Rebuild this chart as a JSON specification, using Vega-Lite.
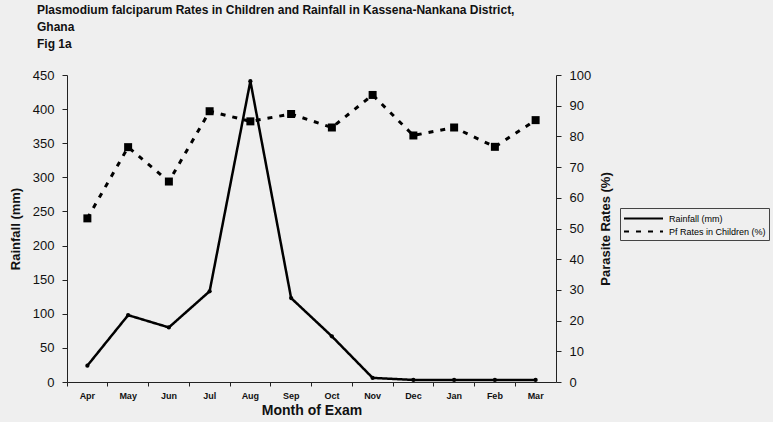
{
  "$schema": "https://vega.github.io/schema/vega-lite/v6.json",
  "width": 489,
  "height": 307,
  "autosize": {"type": "none"},
  "padding": {"left": 67, "top": 75, "right": 217, "bottom": 40},
  "background": "#efefef",
  "config": {
    "view": {"stroke": null},
    "font": "Liberation Sans",
    "axis": {"domainColor": "#222", "tickColor": "#222", "labelColor": "#111", "titleColor": "#111", "grid": false, "labelFont": "Liberation Sans", "titleFont": "Liberation Sans"}
  },
  "title": {
    "text": ["Plasmodium falciparum Rates in Children and Rainfall in Kassena-Nankana District,", "Ghana", "Fig 1a"],
    "anchor": "start",
    "frame": "group",
    "dx": -30,
    "offset": 18,
    "fontSize": 12,
    "font": "Liberation Sans",
    "fontWeight": "bold",
    "lineHeight": 17,
    "color": "#111"
  },
  "data": {
    "values": [
      {"month": "Apr", "rainfall": 24, "pf": 53.3},
      {"month": "May", "rainfall": 98, "pf": 76.5},
      {"month": "Jun", "rainfall": 80, "pf": 65.3},
      {"month": "Jul", "rainfall": 133, "pf": 88.2},
      {"month": "Aug", "rainfall": 441, "pf": 84.9},
      {"month": "Sep", "rainfall": 123, "pf": 87.3},
      {"month": "Oct", "rainfall": 67, "pf": 82.9},
      {"month": "Nov", "rainfall": 6, "pf": 93.5},
      {"month": "Dec", "rainfall": 3, "pf": 80.3},
      {"month": "Jan", "rainfall": 3, "pf": 82.9},
      {"month": "Feb", "rainfall": 3, "pf": 76.6},
      {"month": "Mar", "rainfall": 3, "pf": 85.3}
    ]
  },
  "encoding": {
    "x": {
      "field": "month",
      "type": "ordinal",
      "sort": null,
      "scale": {"type": "band", "paddingInner": 0, "paddingOuter": 0},
      "axis": {
        "title": "Month of Exam",
        "titleFontSize": 14,
        "titleFontWeight": "bold",
        "titlePadding": 3,
        "labelAngle": 0,
        "labelFontSize": 9,
        "labelFontWeight": "bold",
        "labelPadding": 5,
        "bandPosition": 0,
        "tickSize": 4,
        "labelBound": false
      }
    }
  },
  "layer": [
    {
      "mark": {"type": "line", "strokeWidth": 2.5, "point": {"filled": true, "size": 18, "color": "black"}},
      "encoding": {
        "y": {
          "field": "rainfall",
          "type": "quantitative",
          "scale": {"domain": [0, 450], "nice": false},
          "axis": {
            "title": "Rainfall (mm)",
            "titleFontSize": 13,
            "titleFontWeight": "bold",
            "titlePadding": 10,
            "values": [0, 50, 100, 150, 200, 250, 300, 350, 400, 450],
            "labelFontSize": 13,
            "labelPadding": 8,
            "tickSize": 5
          }
        },
        "color": {
          "datum": "Rainfall (mm)",
          "scale": {"domain": ["Rainfall (mm)", "Pf Rates in Children (%)"], "range": ["black", "black"]},
          "legend": {
            "title": null,
            "orient": "none",
            "legendX": 553,
            "legendY": 133,
            "labelFontSize": 9,
            "labelFont": "Liberation Sans",
            "strokeColor": "#444",
            "padding": 3,
            "symbolType": "M-3,0H3",
            "symbolSize": 169,
            "symbolOffset": 13,
            "labelOffset": 18,
            "symbolStrokeWidth": 2,
            "rowPadding": 0
          }
        },
        "strokeDash": {
          "datum": "Rainfall (mm)",
          "scale": {"domain": ["Rainfall (mm)", "Pf Rates in Children (%)"], "range": [[1, 0], [5, 7]]},
          "legend": null
        }
      }
    },
    {
      "mark": {"type": "line", "strokeWidth": 3, "point": {"filled": true, "size": 64, "shape": "square", "color": "black"}},
      "encoding": {
        "y": {
          "field": "pf",
          "type": "quantitative",
          "scale": {"domain": [0, 100], "nice": false},
          "axis": {
            "orient": "right",
            "title": "Parasite Rates (%)",
            "titleAngle": 270,
            "titleFontSize": 13,
            "titleFontWeight": "bold",
            "titlePadding": 22,
            "values": [0, 10, 20, 30, 40, 50, 60, 70, 80, 90, 100],
            "labelFontSize": 13,
            "labelPadding": 8,
            "tickSize": 5
          }
        },
        "color": {"datum": "Pf Rates in Children (%)"},
        "strokeDash": {"datum": "Pf Rates in Children (%)"}
      }
    }
  ],
  "resolve": {"scale": {"y": "independent"}}
}
